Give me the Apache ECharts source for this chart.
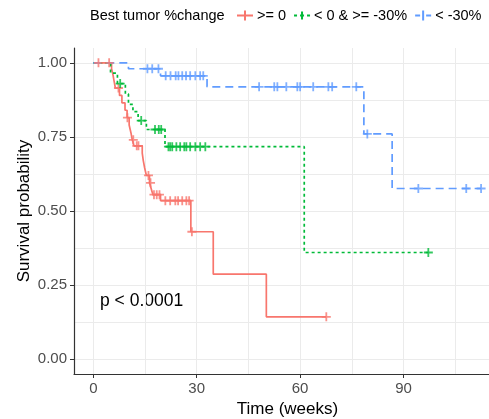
<!doctype html>
<html>
<head>
<meta charset="UTF-8" />
<title>Survival by best tumor %change</title>
<script src="https://cdn.jsdelivr.net/npm/echarts@6/dist/echarts.min.js"></script>
<style>
  html, body { margin: 0; padding: 0; background: #fff; }
  #main { width: 489px; height: 419px; }
</style>
</head>
<body>
<div id="main"></div>
<script>
// group names and colours
const groupNames = [">= 0", "< 0 & >= -30%", "< -30%"];
const groupColors = ["#F8766D", "#00BA38", "#619CFF"];

// Kaplan-Meier steps: [time (weeks), survival]
const stepsPos = [[0, 1], [5.3, 0.98], [5.7, 0.96], [6.0, 0.94], [6.4, 0.915], [7.6, 0.89], [8.3, 0.865],
  [9.2, 0.84], [9.8, 0.815], [10.4, 0.79], [10.9, 0.765], [11.3, 0.74], [11.8, 0.72], [14.2, 0.695],
  [14.5, 0.67], [14.9, 0.645], [15.4, 0.62], [16.3, 0.595], [16.8, 0.575], [17.3, 0.555], [19.5, 0.535],
  [28.3, 0.43], [34.8, 0.287], [50.2, 0.143], [67.6, 0.143]];
const stepsMid = [[0, 1], [5.0, 0.965], [7.0, 0.93], [9.3, 0.895], [10.2, 0.86], [11.5, 0.835], [13.0, 0.805],
  [15.4, 0.775], [20.8, 0.717], [61.2, 0.36], [97.2, 0.36]];
const stepsNeg = [[0, 1], [10.2, 0.98], [19.5, 0.956], [33.0, 0.919], [78.5, 0.76], [86.7, 0.576], [112.5, 0.576]];

// censored observations
const censorPos = [[1.5, 1], [4.6, 1], [7.3, 0.915], [9.9, 0.815], [11.6, 0.74], [12.6, 0.72], [13.1, 0.72],
  [16.0, 0.62], [16.6, 0.595], [17.6, 0.555], [18.4, 0.555], [19.2, 0.555], [20.9, 0.535], [22.3, 0.535],
  [23.8, 0.535], [24.6, 0.535], [25.8, 0.535], [27.0, 0.535], [27.8, 0.535], [28.6, 0.43], [67.6, 0.143]];
const censorMid = [[7.8, 0.93], [13.9, 0.805], [17.9, 0.775], [19.0, 0.775], [19.7, 0.775], [21.8, 0.717],
  [22.3, 0.717], [22.9, 0.717], [24.1, 0.717], [25.2, 0.717], [26.4, 0.717], [27.0, 0.717], [28.1, 0.717],
  [29.6, 0.717], [31.0, 0.717], [32.5, 0.717], [97.2, 0.36]];
const censorNeg = [[15.7, 0.98], [17.1, 0.98], [18.9, 0.98], [21.0, 0.956], [22.4, 0.956], [23.9, 0.956],
  [24.7, 0.956], [25.8, 0.956], [26.9, 0.956], [28.1, 0.956], [29.6, 0.956], [31.0, 0.956], [31.9, 0.956],
  [48.1, 0.919], [52.5, 0.919], [53.4, 0.919], [56.0, 0.919], [59.2, 0.919], [60.0, 0.919], [63.8, 0.919],
  [68.2, 0.919], [69.3, 0.919], [76.3, 0.919], [79.5, 0.76], [94.3, 0.576], [108.2, 0.576], [112.5, 0.576]];

// axis ticks and grid
const xTicks = [0, 30, 60, 90];
const yTicks = [0, 0.25, 0.5, 0.75, 1];
const xGrid = [0, 15, 30, 45, 60, 75, 90, 105];
const yGrid = [0, 0.125, 0.25, 0.375, 0.5, 0.625, 0.75, 0.875, 1];
const xRange = [-5.6, 114.8];
const yRange = [-0.05, 1.05];

const chart = echarts.init(document.getElementById("main"));

const font = "Liberation Sans, Arial, sans-serif";
const plus = "path://M4,0H6V4H10V6H6V10H4V6H0V4H4Z";
const lineTypes = ["solid", [3, 3], [8, 5]];
const legendIcons = [
  "path://M0,4H16V6H0Z M7,0H9V10H7Z",
  "path://M0,4H3V6H0Z M6,4H10V6H6Z M13,4H16V6H13Z M7,1H9V9H7Z",
  "path://M0,4H5V6H0Z M11,4H16V6H11Z M7,0H9V10H7Z"
];
const steps = [stepsPos, stepsMid, stepsNeg];
const censors = [censorPos, censorMid, censorNeg];

// light grey panel grid
const gridLines = [];
xGrid.forEach(function (x) { gridLines.push({ coords: [[x, yRange[0]], [x, yRange[1]]] }); });
yGrid.forEach(function (y) { gridLines.push({ coords: [[xRange[0], y], [xRange[1], y]] }); });

const series = [{
  type: "lines",
  coordinateSystem: "cartesian2d",
  silent: true,
  z: 0,
  lineStyle: { color: "#ebebeb", width: 1, opacity: 1 },
  data: gridLines
}];

groupNames.forEach(function (name, i) {
  series.push({
    name: name,
    type: "line",
    step: "end",
    showSymbol: false,
    silent: true,
    z: 2,
    lineStyle: { color: groupColors[i], width: 1.7, type: lineTypes[i] },
    itemStyle: { color: groupColors[i] },
    data: steps[i]
  });
  series.push({
    name: name,
    type: "scatter",
    symbol: plus,
    symbolSize: 9,
    silent: true,
    z: 3,
    itemStyle: { color: groupColors[i] },
    data: censors[i]
  });
});

const option = {
  animation: false,
  textStyle: { fontFamily: font },
  grid: { left: 74, right: 0, top: 48, bottom: 45, containLabel: false, outerBoundsMode: "none" },
  legend: {
    left: 232,
    top: 3,
    itemWidth: 16,
    itemHeight: 10,
    itemGap: 8,
    selectedMode: false,
    textStyle: { fontSize: 14.5, color: "#000", padding: [0, 0, 0, -1] },
    data: groupNames.map(function (n, i) {
      return { name: n, icon: legendIcons[i], itemStyle: { color: groupColors[i] } };
    })
  },
  xAxis: {
    type: "value",
    min: xRange[0],
    max: xRange[1],
    name: "Time (weeks)",
    nameLocation: "middle",
    nameGap: 27,
    nameMoveOverlap: false,
    nameTextStyle: { fontSize: 17, color: "#000", padding: [0, 0, 0, 12] },
    axisLine: { show: true, onZero: false, lineStyle: { color: "#333", width: 1.2 } },
    axisTick: { show: true, customValues: xTicks, length: 4, lineStyle: { color: "#333" } },
    axisLabel: { customValues: xTicks, fontSize: 15, color: "#4d4d4d", margin: 7 },
    splitLine: { show: false }
  },
  yAxis: {
    type: "value",
    min: yRange[0],
    max: yRange[1],
    name: "Survival probability",
    nameLocation: "middle",
    nameGap: 41,
    nameMoveOverlap: false,
    nameTextStyle: { fontSize: 17, color: "#000" },
    axisLine: { show: true, onZero: false, lineStyle: { color: "#333", width: 1.2 } },
    axisTick: { show: true, customValues: yTicks, length: 4, lineStyle: { color: "#333" } },
    axisLabel: {
      customValues: yTicks, fontSize: 15, color: "#4d4d4d", margin: 7,
      formatter: function (v) { return v.toFixed(2); }
    },
    splitLine: { show: false }
  },
  graphic: [
    { type: "text", left: 90, top: 8, style: { text: "Best tumor %change", fontSize: 14.5, fill: "#000", fontFamily: font } },
    { type: "text", left: 100, top: 292, style: { text: "p < 0.0001", fontSize: 17.5, fill: "#000", fontFamily: font } }
  ],
  series: series
};

chart.setOption(option);
</script>
</body>
</html>
